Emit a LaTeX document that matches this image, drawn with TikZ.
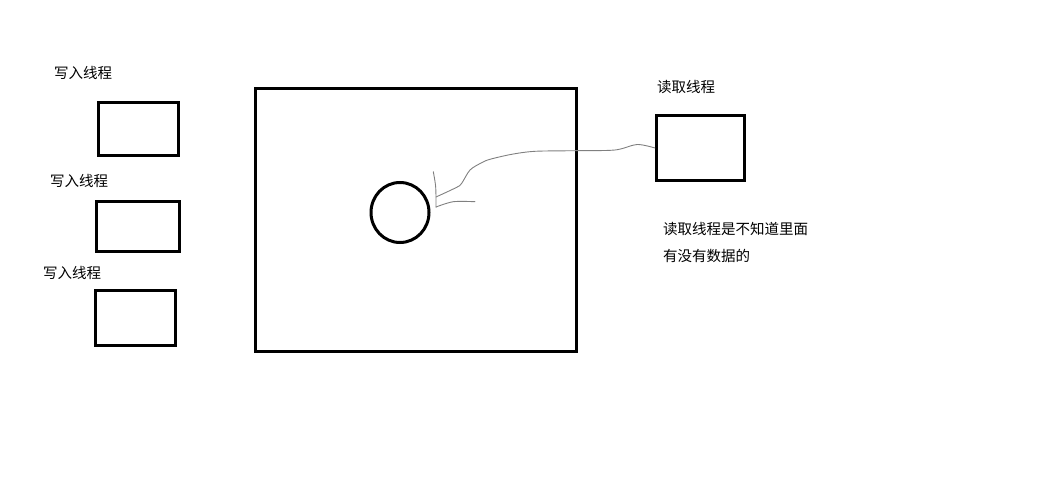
\documentclass[tikz,border=0pt]{standalone}
\usepackage{fontspec}
\setmainfont{Noto Sans CJK SC}
\usetikzlibrary{shapes.geometric,positioning,calc}
\definecolor{pen}{HTML}{808080}

\tikzset{
    thrbox/.style={draw, line width=3pt, rectangle, inner sep=0pt},
    lbl/.style={anchor=west, inner sep=0pt, font=\fontsize{14.5}{18}\selectfont},
    stroke/.style={pen, line width=0.9pt, line cap=round, line join=round}
}

\begin{document}
\begin{tikzpicture}[x=1pt, y=-1pt]
\useasboundingbox (0,0) rectangle (1047,487);

% writer threads on the left
\foreach \n/\cx/\cy/\w/\h/\lx/\ly in {%
    1/138.5/129/80/53/54/73,%
    2/138/226.5/83/50/50/181,%
    3/135.5/318/80/55/43/273%
}{
    \node[thrbox, minimum width=\w pt, minimum height=\h pt] (wr\n) at (\cx,\cy) {};
    \node[lbl] (wrlbl\n) at (\lx,\ly) {写入线程};
}

% shared area with the data in it
\node[thrbox, minimum width=321pt, minimum height=263pt] (pool) at (416,220) {};
\node[draw, ellipse, line width=3pt, inner sep=0pt, minimum width=58pt, minimum height=60pt] (buf) at (400,212.5) {};

% reader thread
\node[thrbox, minimum width=88pt, minimum height=65pt] (rd) at (700.5,148) {};
\node[lbl] (rdlbl) at (657,87) {读取线程};
\node[lbl] (note1) at (663,229) {读取线程是不知道里面};
\node[lbl] (note2) at (663,256) {有没有数据的};

% hand drawn pointer towards the data
\coordinate (tip) at (436,197);
\draw[stroke] plot[smooth, tension=0.5] coordinates {(rd.west) (637,144.5) (615,150) (575,150.7) (535,151.3) (511.7,154.3) (490,159.3) (481.7,162.7) (470,170) (461.7,183.3) (456.7,187.3) (tip)};
\draw[stroke] plot[smooth, tension=0.5] coordinates {(433.3,171.7) (435.5,185) (436,196.7) (436,207.3)};
\draw[stroke] plot[smooth, tension=0.5] coordinates {(436,207) (453.3,201.7) (475,201.7)};
\end{tikzpicture}
\end{document}
